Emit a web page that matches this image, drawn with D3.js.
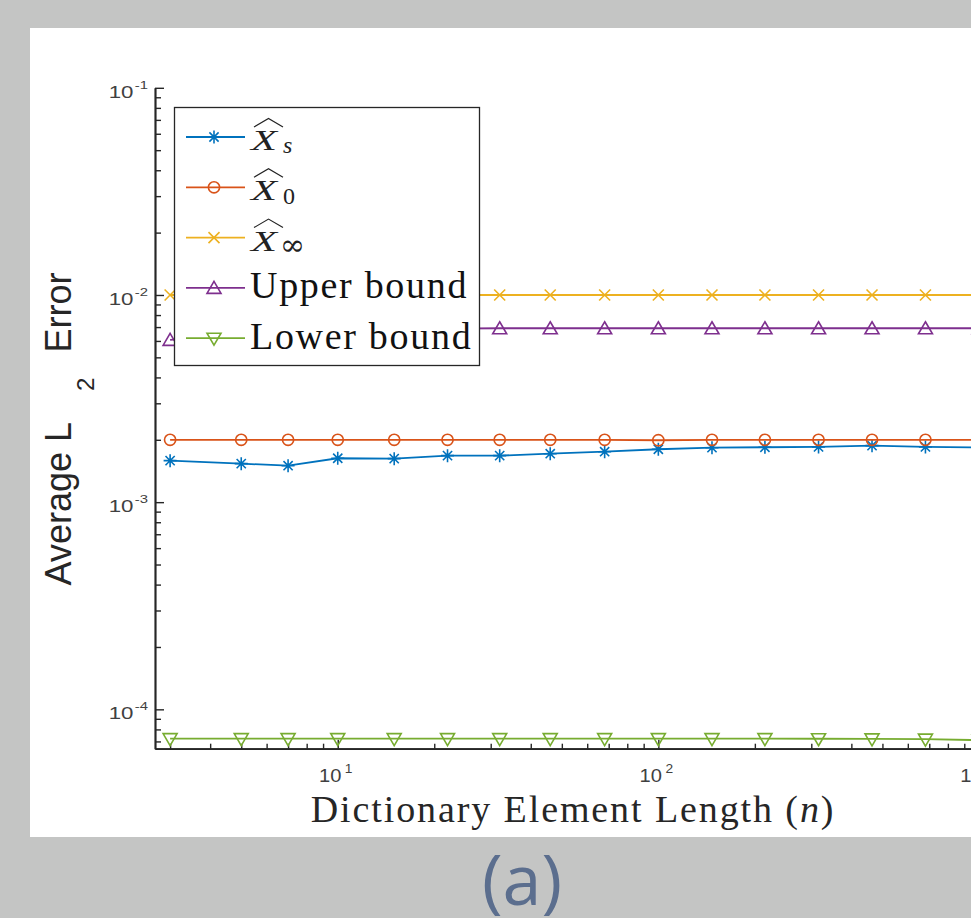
<!DOCTYPE html>
<html>
<head>
<meta charset="utf-8">
<script src="https://cdn.jsdelivr.net/npm/d3@7"></script>
<style>
  html, body { margin: 0; padding: 0; background: #c4c5c4; overflow: hidden; }
  svg { display: block; }
</style>
</head>
<body>
<div id="chart"></div>
<script>
// Dictionary element length n (x axis, log scale)
const nValues = [3, 5, 7, 10, 15, 22, 32, 46, 68, 100, 147, 215, 316, 464, 681, 1000];

// Average L2 error per estimator (y axis, log scale)
const errXs = [1.586e-3, 1.534e-3, 1.500e-3, 1.629e-3, 1.622e-3, 1.677e-3, 1.677e-3, 1.714e-3,
               1.752e-3, 1.800e-3, 1.832e-3, 1.841e-3, 1.847e-3, 1.874e-3, 1.847e-3, 1.835e-3];
const errX0 = [2.00e-3, 2.00e-3, 2.00e-3, 2.00e-3, 2.00e-3, 2.00e-3, 2.00e-3, 2.00e-3,
               2.00e-3, 1.99e-3, 2.00e-3, 2.00e-3, 2.00e-3, 2.00e-3, 2.00e-3, 2.00e-3];
const errXinf = [1.0e-2, 1.0e-2, 1.0e-2, 1.0e-2, 1.0e-2, 1.0e-2, 1.0e-2, 1.0e-2,
                 1.0e-2, 1.0e-2, 1.0e-2, 1.0e-2, 1.0e-2, 1.0e-2, 1.0e-2, 1.0e-2];
const upperBound = [6.07e-3, 6.5e-3, 6.7e-3, 6.8e-3, 6.85e-3, 6.88e-3, 6.91e-3, 6.91e-3,
                    6.91e-3, 6.91e-3, 6.91e-3, 6.91e-3, 6.91e-3, 6.91e-3, 6.91e-3, 6.91e-3];
const lowerBound = [7.22e-5, 7.22e-5, 7.22e-5, 7.22e-5, 7.22e-5, 7.22e-5, 7.22e-5, 7.22e-5,
                    7.22e-5, 7.22e-5, 7.22e-5, 7.22e-5, 7.21e-5, 7.2e-5, 7.18e-5, 7.1e-5];

const xTickExps = [0, 1, 2, 3];
const yTickExps = [-4, -3, -2, -1];

const series = [
  {key: "Xs",   values: errXs,      color: "#0072BD", marker: "star",  sub: "s"},
  {key: "X0",   values: errX0,      color: "#D95319", marker: "circle", sub: "0"},
  {key: "Xinf", values: errXinf,    color: "#EDB120", marker: "cross", sub: "\u221E"},
  {key: "up",   values: upperBound, color: "#7E2F8E", marker: "tri",   label: "Upper bound"},
  {key: "low",  values: lowerBound, color: "#77AC30", marker: "itri",  label: "Lower bound"}
];

const W = 971, H = 918;
const axisColor = "#262626";

const svg = d3.select("#chart").append("svg")
  .attr("width", W)
  .attr("height", H);

// white figure panel
svg.append("rect")
  .attr("x", 30).attr("y", 28)
  .attr("width", 1000).attr("height", 809)
  .attr("fill", "#fff");

const plotLeft = 155, plotBottom = 748.7, plotTop = 87.8;
const decadeX = 320.6;
const xMin = Math.pow(10, 0.43), xMax = Math.pow(10, 3.5);

const x = d3.scaleLog()
  .domain([xMin, xMax])
  .range([plotLeft, plotLeft + decadeX * Math.log10(xMax / xMin)]);

const y = d3.scaleLog()
  .domain([Math.pow(10, -4.19), 1e-1])
  .range([plotBottom, plotTop]);

// minor tick values
function minorTicks(lo, hi) {
  const out = [];
  for (let e = Math.floor(Math.log10(lo)); e <= Math.ceil(Math.log10(hi)); e++) {
    for (let k = 2; k <= 9; k++) {
      const v = k * Math.pow(10, e);
      if (v >= lo && v <= hi) out.push(v);
    }
  }
  return out;
}

const gx = svg.append("g").attr("transform", `translate(0,${plotBottom})`);
gx.call(d3.axisBottom(x).tickValues(minorTicks(xMin, xMax)).tickSize(-5).tickSizeOuter(0).tickFormat(""));
gx.append("g").call(d3.axisBottom(x).tickValues(xTickExps.map(e => Math.pow(10, e)).filter(v => v >= xMin))
  .tickSize(-9).tickSizeOuter(0).tickFormat(""));

const gy = svg.append("g").attr("transform", `translate(${plotLeft},0)`);
gy.call(d3.axisLeft(y).tickValues(minorTicks(y.domain()[0], 1e-1)).tickSize(-6).tickSizeOuter(0).tickFormat(""));
gy.append("g").call(d3.axisLeft(y).tickValues(yTickExps.map(e => Math.pow(10, e)))
  .tickSize(-9).tickSizeOuter(0).tickFormat(""));

svg.selectAll(".domain").attr("stroke", axisColor).attr("stroke-width", 1.7);
svg.selectAll(".tick line").attr("stroke", axisColor).attr("stroke-width", 1.4);

// tick labels 10^k
const tickFont = "'Liberation Sans', Arial, sans-serif";
yTickExps.forEach(e => {
  const t = svg.append("text")
    .attr("transform", `translate(${plotLeft - 7},${y(Math.pow(10, e)) + 10}) scale(1.35,1)`)
    .attr("text-anchor", "end")
    .attr("font-family", tickFont)
    .attr("font-size", 16.5)
    .attr("fill", "#404040");
  t.append("tspan").text("10");
  t.append("tspan").attr("font-size", 11).attr("dx", 1).attr("dy", -9).text("-" + (-e));
});

xTickExps.filter(e => Math.pow(10, e) >= xMin).forEach(e => {
  const t = svg.append("text")
    .attr("transform", `translate(${x(Math.pow(10, e)) - 2},${plotBottom + 33}) scale(1.15,1)`)
    .attr("text-anchor", "middle")
    .attr("font-family", tickFont)
    .attr("font-size", 17.5)
    .attr("fill", "#404040");
  t.append("tspan").text("10");
  t.append("tspan").attr("font-size", 12).attr("dx", 3).attr("dy", -9).text(e);
});

// axis labels
const serif = "'Liberation Serif', 'Times New Roman', serif";
const xl = svg.append("text")
  .attr("x", 573).attr("y", 822)
  .attr("text-anchor", "middle")
  .attr("font-family", serif)
  .attr("font-size", 38)
  .attr("letter-spacing", 1.9)
  .attr("fill", "#262626");
xl.append("tspan").text("Dictionary Element Length (");
xl.append("tspan").attr("font-style", "italic").text("n");
xl.append("tspan").text(")");

const yl = svg.append("text")
  .attr("transform", "translate(71,429) rotate(-90)")
  .attr("text-anchor", "middle")
  .attr("font-family", tickFont)
  .attr("font-size", 36)
  .attr("fill", "#262626");
yl.append("tspan").text("Average L");
yl.append("tspan").attr("font-size", 24).attr("dx", 31).attr("dy", 23).text("2");
yl.append("tspan").attr("dx", 25).attr("dy", -23).text("Error");

// markers
function drawMarker(g, type, color) {
  if (type === "circle") {
    g.append("circle").attr("r", 5.6).attr("fill", "none")
      .attr("stroke", color).attr("stroke-width", 1.6);
    return;
  }
  const shapes = {
    star: "M-6.5,0H6.5M0,-6.5V6.5M-4.6,-4.6L4.6,4.6M-4.6,4.6L4.6,-4.6",
    cross: "M-5.5,-5.5L5.5,5.5M-5.5,5.5L5.5,-5.5",
    tri: "M0,-6.5L7,5.5L-7,5.5Z",
    itri: "M0,7L7,-5L-7,-5Z"
  };
  g.append("path")
    .attr("d", shapes[type])
    .attr("fill", "none")
    .attr("stroke", color)
    .attr("stroke-width", 1.6);
}

const line = d3.line()
  .x(d => x(d.n))
  .y(d => y(d.v));

series.forEach(s => {
  const pts = nValues.map((n, i) => ({n: n, v: s.values[i]}));
  svg.append("path")
    .datum(pts)
    .attr("fill", "none")
    .attr("stroke", s.color)
    .attr("stroke-width", 1.8)
    .attr("d", line);
  svg.append("g").selectAll("g")
    .data(pts)
    .enter().append("g")
    .attr("transform", d => `translate(${x(d.n)},${y(d.v)})`)
    .each(function() { drawMarker(d3.select(this), s.marker, s.color); });
});

// legend
const legend = svg.append("g");
legend.append("rect")
  .attr("x", 174.5).attr("y", 107.5)
  .attr("width", 305).attr("height", 258)
  .attr("fill", "#fff")
  .attr("stroke", axisColor)
  .attr("stroke-width", 1.3);

series.forEach((s, i) => {
  const ly = 137 + i * 50.3;
  const g = legend.append("g").attr("transform", `translate(0,${ly})`);
  g.append("line")
    .attr("x1", 186).attr("x2", 245)
    .attr("stroke", s.color).attr("stroke-width", 1.8);
  drawMarker(g.append("g").attr("transform", "translate(214,0)"), s.marker, s.color);
  if (s.label) {
    g.append("text")
      .attr("x", 250).attr("y", 10.5)
      .attr("font-family", serif)
      .attr("font-size", 38)
      .attr("letter-spacing", 1.7)
      .attr("fill", "#111")
      .text(s.label);
  } else {
    g.append("text")
      .attr("x", 251).attr("y", 13)
      .attr("font-family", serif)
      .attr("font-style", "italic")
      .attr("font-size", 29)
      .attr("textLength", 26)
      .attr("lengthAdjust", "spacingAndGlyphs")
      .attr("fill", "#222")
      .text("X");
    // wide hat
    g.append("path")
      .attr("d", "M254,-10L268.5,-18.5L283,-10")
      .attr("fill", "none")
      .attr("stroke", "#222")
      .attr("stroke-width", 1.2);
    g.append("text")
      .attr("x", s.sub === "\u221E" ? 280 : 283)
      .attr("y", s.sub === "s" ? 16 : 17)
      .attr("font-family", s.sub === "\u221E" ? "'DejaVu Serif', serif" : serif)
      .attr("font-style", s.sub === "s" ? "italic" : "normal")
      .attr("font-size", s.sub === "\u221E" ? 30 : 24)
      .attr("fill", "#222")
      .text(s.sub);
  }
});

// panel caption
svg.append("text")
  .attr("x", 522).attr("y", 905)
  .attr("text-anchor", "middle")
  .attr("font-family", "'Open Sans', sans-serif")
  .attr("font-size", 70)
  .attr("fill", "#5b6e8e")
  .text("(a)");
</script>
</body>
</html>
